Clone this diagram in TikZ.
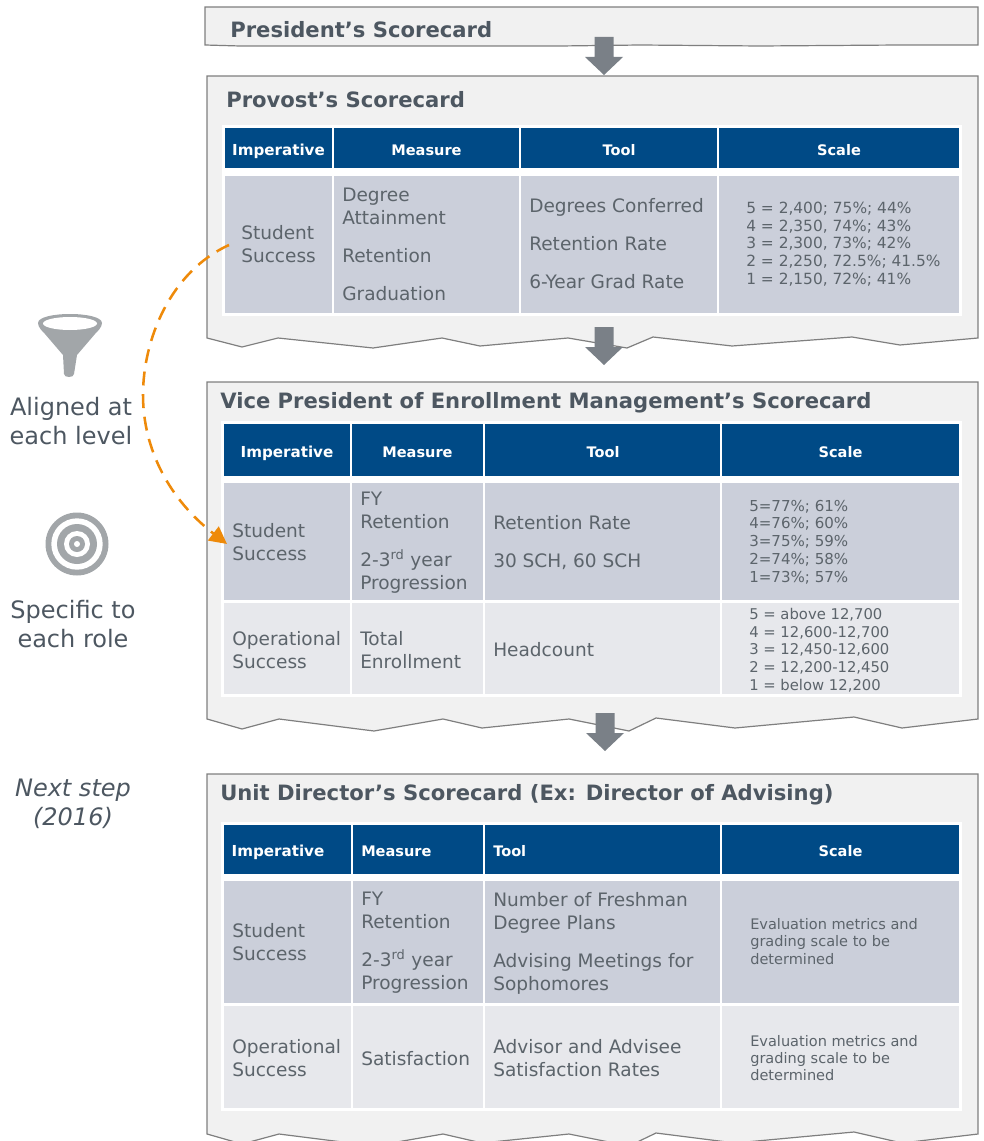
\documentclass[tikz,border=0pt]{standalone}
\usepackage{fontspec}
\setmainfont{DejaVu Sans}
\usetikzlibrary{arrows.meta}
\definecolor{panelfill}{HTML}{F1F1F1}
\definecolor{panelline}{HTML}{7F7F7F}
\definecolor{headfill}{HTML}{004A86}
\definecolor{rowa}{HTML}{CBCFDA}
\definecolor{rowb}{HTML}{E7E8EC}
\definecolor{bodytext}{HTML}{5C646B}
\definecolor{titletext}{HTML}{4D5761}
\definecolor{arrowgray}{HTML}{7A8087}
\definecolor{icongray}{HTML}{A2A6A9}
\definecolor{orangeline}{HTML}{EE8A0A}
\newcommand{\sizeb}{\fontsize{13.9pt}{17.25pt}\selectfont}
\newcommand{\sizes}{\fontsize{11.1pt}{13.3pt}\selectfont}
\newcommand{\sizep}{\fontsize{11.55pt}{13.3pt}\selectfont}
\newcommand{\sizev}{\fontsize{11.3pt}{13.3pt}\selectfont}
\newcommand{\sizeu}{\fontsize{10.9pt}{13pt}\selectfont}
\newcommand{\sizeh}{\fontsize{10.9pt}{13pt}\selectfont\bfseries}
\newcommand{\sizei}{\fontsize{11.35pt}{13pt}\selectfont\bfseries}
\newcommand{\sizet}{\fontsize{15.85pt}{20pt}\selectfont\bfseries}
\newcommand{\sizel}{\fontsize{18pt}{21.75pt}\selectfont}
\newcommand{\ord}{\textsuperscript{rd}}
\tikzset{
  x=0.75pt,y=-0.75pt,
  panel/.style={fill=panelfill,draw=panelline,line width=0.9pt,line join=miter},
  whitebg/.style={fill=white,draw=none},
  headcell/.style={fill=headfill,draw=none},
  cella/.style={fill=rowa,draw=none},
  cellb/.style={fill=rowb,draw=none},
  headtext/.style={text=white,font=\sizeh,inner sep=0pt,anchor=base},
  impword/.style={text=white,font=\sizei,inner sep=0pt,anchor=base},
  bodycell/.style={text=bodytext,font=\sizeb,inner sep=0pt,anchor=west,align=left},
  scalecell/.style={text=bodytext,font=\sizes,inner sep=0pt,anchor=west,align=left},
  titlenode/.style={text=titletext,font=\sizet,inner sep=0pt,anchor=base west},
  sidelabel/.style={text=titletext,font=\sizel,inner sep=0pt,anchor=center,align=center},
  blockarrow/.style={fill=arrowgray,draw=none},
  icon/.style={fill=icongray,draw=none},
  linker/.style={draw=orangeline,line width=1.9pt,dash pattern=on 10.5pt off 6.5pt,
    -{Triangle[length=13pt,width=13pt,fill=orangeline]}},
}
\newcommand{\blockarrowat}[2]{% x centre, y top
  \fill[blockarrow] (#1-9.5,#2) -- (#1+9.5,#2) -- (#1+9.5,#2+20) -- (#1+19,#2+20)
    -- (#1,#2+38) -- (#1-19,#2+20) -- (#1-9.5,#2+20) -- cycle;}
\newcommand{\waveedge}[1]{%
  (978,#1+0) -- (902,#1+9) -- (854,#1-2) -- (735,#1+9) -- (656,#1-1) -- (629,#1+12)
  -- (569,#1+0) -- (482,#1+9) -- (443,#1+0) -- (374,#1+12) -- (279,#1+0) -- (242,#1+10) -- (207,#1+0)}
\begin{document}
\begin{tikzpicture}
\useasboundingbox (0,0) rectangle (984,1141);
\clip (0,0) rectangle (984,1141);

% ---------- panels ----------
\fill[panel] (205,7) -- (978,7) -- (978,45) -- (900,45) -- (760,46) -- (640,45) -- (560,46) -- (430,46) -- (300,46) -- (240,46) -- (205,45) -- cycle;
\fill[panel] (207,76) -- (978,76) -- (978,338) -- (900,345) -- (852,337) -- (732,346) -- (653,337) -- (627,348) -- (568,338) -- (480,346) -- (442,338) -- (373,348) -- (278,338) -- (242,347) -- (207,338) -- cycle;
\fill[panel] (207,382) -- (978,382) -- \waveedge{719} -- cycle;
\fill[panel] (207,774) -- (978,774) -- \waveedge{1134} -- cycle;

\node[titlenode] (t1) at (230,38) {President’s Scorecard};
\node[titlenode] (t2) at (226,108) {Provost’s Scorecard};
\node[titlenode] (t3) at (220,408) {Vice President of Enrollment Management’s Scorecard};
\node[titlenode] (t4) at (220,800) {Unit Director’s Scorecard (Ex: Director of Advising)};

% ---------- block arrows ----------
\blockarrowat{604}{37}
\blockarrowat{604}{327}
\blockarrowat{605}{713}

% ---------- Provost table ----------
\fill[whitebg] (222,125) rectangle (962,316);
\fill[headcell] (225,128) rectangle (332,168);
\fill[headcell] (334,128) rectangle (519,168);
\fill[headcell] (521,128) rectangle (717,168);
\fill[headcell] (719,128) rectangle (959,168);
\fill[cella] (225,176) rectangle (332,313);
\fill[cella] (334,176) rectangle (519,313);
\fill[cella] (521,176) rectangle (717,313);
\fill[cella] (719,176) rectangle (959,313);
\node[impword] (p1) at (278.5,156) {Imperative};
\node[headtext] (p2) at (426.5,156) {Measure};
\node[headtext] (p3) at (619,156) {Tool};
\node[headtext] (p4) at (839,156) {Scale};
\node[bodycell] (pa) at (241,244.5) {Student\\Success};
\node[bodycell] (pb) at (342,244) {Degree\\Attainment\\[11.25pt]Retention\\[11.25pt]Graduation};
\node[bodycell] (pc) at (529,244) {Degrees Conferred\\[11.25pt]Retention Rate\\[11.25pt]6-Year Grad Rate};
\node[scalecell,font=\sizep] (pd) at (746,244) {5 = 2,400; 75\%; 44\%\\4 = 2,350, 74\%; 43\%\\3 = 2,300, 73\%; 42\%\\2 = 2,250, 72.5\%; 41.5\%\\1 = 2,150, 72\%; 41\%};

% ---------- VP table ----------
\fill[whitebg] (221,421) rectangle (962,697);
\fill[headcell] (224,424) rectangle (350,476);
\fill[headcell] (352,424) rectangle (483,476);
\fill[headcell] (485,424) rectangle (720,476);
\fill[headcell] (722,424) rectangle (959,476);
\fill[cella] (224,483) rectangle (350,600);
\fill[cella] (352,483) rectangle (483,600);
\fill[cella] (485,483) rectangle (720,600);
\fill[cella] (722,483) rectangle (959,600);
\fill[cellb] (224,603) rectangle (350,694);
\fill[cellb] (352,603) rectangle (483,694);
\fill[cellb] (485,603) rectangle (720,694);
\fill[cellb] (722,603) rectangle (959,694);
\node[impword] (v1) at (287,457) {Imperative};
\node[headtext] (v2) at (417.5,457) {Measure};
\node[headtext] (v3) at (603,457) {Tool};
\node[headtext] (v4) at (840.5,457) {Scale};
\node[bodycell] (va) at (232,542) {Student\\Success};
\node[bodycell] (vb) at (360,542.5) {FY\\Retention\\[11.25pt]2-3\ord\ year\\Progression};
\node[bodycell] (vc) at (493,542.5) {Retention Rate\\[11.25pt]30 SCH, 60 SCH};
\node[scalecell,font=\sizev] (vd) at (749,542) {5=77\%; 61\%\\4=76\%; 60\%\\3=75\%; 59\%\\2=74\%; 58\%\\1=73\%; 57\%};
\node[bodycell] (ve) at (232,650) {Operational\\Success};
\node[bodycell] (vf) at (360,650) {Total\\Enrollment};
\node[bodycell] (vg) at (493,649.5) {Headcount};
\node[scalecell] (vh) at (749,650) {5 = above 12,700\\4 = 12,600-12,700\\3 = 12,450-12,600\\2 = 12,200-12,450\\1 = below 12,200};

% ---------- Unit table ----------
\fill[whitebg] (221,822) rectangle (962,1111);
\fill[headcell] (224,825) rectangle (351,874);
\fill[headcell] (353,825) rectangle (483,874);
\fill[headcell] (485,825) rectangle (720,874);
\fill[headcell] (722,825) rectangle (959,874);
\fill[cella] (224,881) rectangle (351,1003);
\fill[cella] (353,881) rectangle (483,1003);
\fill[cella] (485,881) rectangle (720,1003);
\fill[cella] (722,881) rectangle (959,1003);
\fill[cellb] (224,1006) rectangle (351,1108);
\fill[cellb] (353,1006) rectangle (483,1108);
\fill[cellb] (485,1006) rectangle (720,1108);
\fill[cellb] (722,1006) rectangle (959,1108);
\node[impword] (u1) at (278,856) {Imperative};
\node[headtext,anchor=base west] (u2) at (361,856) {Measure};
\node[headtext,anchor=base west] (u3) at (493,856) {Tool};
\node[headtext] (u4) at (840.5,856) {Scale};
\node[bodycell] (ua) at (232,942) {Student\\Success};
\node[bodycell] (ub) at (361,943) {FY\\Retention\\[11.25pt]2-3\ord\ year\\Progression};
\node[bodycell] (uc) at (493,943) {Number of Freshman\\Degree Plans\\[11.25pt]Advising Meetings for\\Sophomores};
\node[scalecell,font=\sizeu] (ud) at (750,941.5) {Evaluation metrics and\\grading scale to be\\determined};
\node[bodycell] (ue) at (232,1058.5) {Operational\\Success};
\node[bodycell] (uf) at (361,1058.5) {Satisfaction};
\node[bodycell] (ug) at (493,1058.5) {Advisor and Advisee\\Satisfaction Rates};
\node[scalecell,font=\sizeu] (uh) at (750,1058) {Evaluation metrics and\\grading scale to be\\determined};

% ---------- funnel icon ----------
\fill[icon] (38,323) .. controls (38,317) and (54,314) .. (70,314) .. controls (86,314) and (102,317) .. (102,323)
  .. controls (102,327) and (98,331) .. (95,334) -- (77,355) -- (74,374) .. controls (74,378) and (64,378) .. (64,374) -- (63,355) -- (45,334) .. controls (42,331) and (38,327) .. (38,323) -- cycle;
\fill[white] (70,323.5) ellipse [x radius=27,y radius=6.5];

% ---------- target icon ----------
\fill[icon] (77,544) circle [radius=31.5];
\fill[white] (77,544) circle [radius=25.7];
\fill[icon] (77,544) circle [radius=20];
\fill[white] (77,544) circle [radius=13];
\fill[icon] (77,544) circle [radius=8];
\fill[white] (77,544) circle [radius=3];

% ---------- side labels ----------
\node[sidelabel] (s1) at (71,421) {Aligned at\\each level};
\node[sidelabel] (s2) at (73,624) {Specific to\\each role};
\node[sidelabel,font=\sizel\itshape] (s3) at (73,804) {Next step\\(2016)};

% ---------- dashed linker ----------
\coordinate (linkstart) at (229,245);
\coordinate (linkmid) at (143,395);
\coordinate (linkend) at (227,544);
\draw[linker] (linkstart) .. controls (170,272) and (143,340) .. (linkmid) .. controls (143,450) and (170,500) .. (linkend);
\end{tikzpicture}
\end{document}
